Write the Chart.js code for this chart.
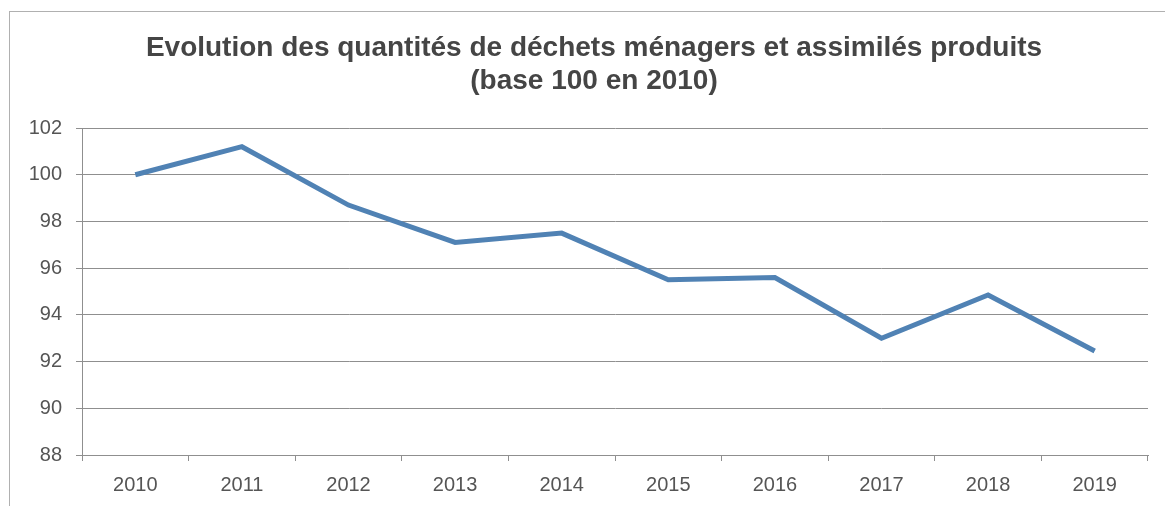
<!DOCTYPE html>
<html>
<head>
<meta charset="utf-8">
<script src="https://cdn.jsdelivr.net/npm/chart.js@4/dist/chart.umd.min.js"></script>
<style>
  html, body { margin: 0; padding: 0; background: #fff; }
  #wrap { position: relative; width: 1165px; height: 506px; }
  #frame { position: absolute; left: 9px; top: 11px; right: 0; bottom: 0;
           border-left: 1px solid #b0b0b0; border-top: 1px solid #b0b0b0; }
  canvas { position: absolute; left: 0; top: 0; }
</style>
</head>
<body>
<div id="wrap">
  <div id="frame"></div>
  <canvas id="myChart" width="1165" height="506"></canvas>
</div>
<script>
// Data
  const years = ['2010', '2011', '2012', '2013', '2014', '2015', '2016', '2017', '2018', '2019'];
  const indexValues = [100, 101.2, 98.7, 97.1, 97.5, 95.5, 95.6, 93.0, 94.85, 92.45];
  const titleLines = [
    'Evolution des quantités de déchets ménagers et assimilés produits',
    '(base 100 en 2010)'
  ];

  const gridColor = '#8f8f8f';

// Title drawn by hand: the original is centred a bit left of the plot area
  const titlePlugin = {
    id: 'centredTitle',
    afterDraw: function (chart) {
      const ctx = chart.ctx;
      ctx.save();
      ctx.font = 'bold 28px "Liberation Sans", Arial, sans-serif';
      ctx.fillStyle = '#454545';
      ctx.textAlign = 'center';
      ctx.textBaseline = 'middle';
      titleLines.forEach(function (line, i) {
        ctx.fillText(line, 594, 48 + i * 33);
      });
      ctx.restore();
    }
  };

  const config = {
    type: 'line',
    data: {
      labels: years,
      datasets: [{
        label: 'Indice',
        data: indexValues,
        borderColor: '#5082b4',
        borderWidth: 5,
        pointRadius: 0,
        tension: 0,
        fill: false
      }]
    },
    options: {
      responsive: false,
      animation: false,
      layout: { padding: { left: 0, right: 17, top: 128, bottom: 0 } },
      plugins: {
        legend: { display: false },
        tooltip: { enabled: false },
        title: { display: false }
      },
      scales: {
        x: {
          offset: true,
          afterFit: function (scale) { scale.height = 51; },
          border: { display: true, color: gridColor, width: 1 },
          grid: { drawOnChartArea: false, drawTicks: true, tickLength: 6, color: gridColor, offset: true },
          ticks: {
            color: '#555',
            padding: 12,
            font: { family: 'Liberation Sans, Arial', size: 20 }
          }
        },
        y: {
          min: 88,
          max: 102,
          afterFit: function (scale) { scale.width = 82; },
          border: { display: true, color: gridColor, width: 1 },
          grid: { color: gridColor, tickLength: 6, lineWidth: 1 },
          ticks: {
            stepSize: 2,
            color: '#555',
            padding: 14,
            font: { family: 'Liberation Sans, Arial', size: 20 }
          }
        }
      }
    },
    plugins: [titlePlugin]
  };

  const myChart = new Chart(document.getElementById('myChart'), config);
</script>
</body>
</html>
